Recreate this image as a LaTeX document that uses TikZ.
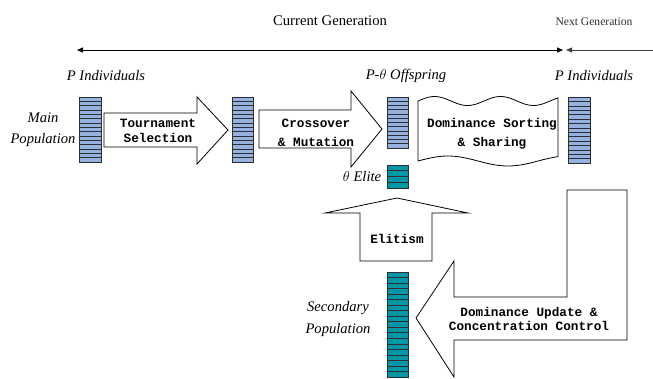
\documentclass[tikz,border=0pt]{standalone}
\usepackage{fontspec}
\setmainfont{Liberation Serif}
\newfontfamily\boxfont{Liberation Mono}
\usetikzlibrary{calc,arrows.meta}
\definecolor{stackblue}{RGB}{149,179,224}
\definecolor{stackteal}{RGB}{0,151,167}
\definecolor{stackedge}{RGB}{45,45,50}
\tikzset{
  stackbox/.style={draw=stackedge, line width=0.9pt, inner sep=0pt, outer sep=0pt},
  stackrow/.style={draw=stackedge, line width=0.6pt},
  blockarrow/.style={draw=black, fill=white, line width=0.8pt, line join=miter},
  boxtext/.style={font=\boxfont\bfseries\fontsize{12.7}{15}\selectfont, align=center, inner sep=0pt},
  itlabel/.style={font=\itshape\fontsize{14.6}{17}\selectfont, inner sep=0pt, align=center},
  genline/.style={line width=0.8pt, -{Triangle[length=6pt,width=5pt]}},
}
\newcommand\popstack[7]{%
  \node[stackbox, fill=#7, minimum width=#4pt, minimum height=#5pt] (#1) at (#2,#3) {};
  \pgfmathtruncatemacro\nrowsm{#6-1}%
  \foreach \i in {1,...,\nrowsm}{%
    \draw[stackrow] ($(#1.north west)!{\i/#6}!(#1.south west)$) -- ($(#1.north east)!{\i/#6}!(#1.south east)$);
  }%
}
\begin{document}
\begin{tikzpicture}[x=1pt,y=-1pt]
\useasboundingbox (0,0) rectangle (653,378);

% generation arrows
\coordinate (gl) at (77,50);
\coordinate (gr) at (563,50);
\coordinate (nl) at (566,50);
\coordinate (nr) at (653,50);
\draw[genline, {Triangle[length=6pt,width=5pt]}-{Triangle[length=6pt,width=5pt]}] (gl) -- (gr);
\draw[genline, draw=gray!50!black, -{Triangle[length=6pt,width=5pt]}] (nr) -- (nl);
\node[font=\fontsize{14.7}{17}\selectfont, inner sep=0pt] (curgen) at (330,21) {Current Generation};
\node[font=\fontsize{11.6}{14}\selectfont, text=gray!35!black, inner sep=0pt] (nextgen) at (594,22) {Next Generation};

% block arrows
\draw[blockarrow] (104,113) -- (197,113) -- (197,97) -- (228,130) -- (197,164) -- (197,147) -- (104,147) -- cycle;
\node[boxtext] (tourn) at (158,131) {Tournament\\Selection};
\draw[blockarrow] (259,110) -- (351,110) -- (351,91) -- (382,129) -- (351,167) -- (351,148) -- (259,148) -- cycle;
\node[boxtext, font=\boxfont\bfseries\fontsize{12.7}{19}\selectfont] (cross) at (316,133) {Crossover\\\& Mutation};

% dominance sorting (tape shape)
\draw[blockarrow] plot[smooth, domain=418:558, samples=60] (\x,{101-4.5*sin(5.4545*(\x-418))})
  -- plot[smooth, domain=558:418, samples=60] (\x,{161-5*sin(3*(\x-418))}) -- cycle;
\node[boxtext, font=\boxfont\bfseries\fontsize{12.7}{19}\selectfont] (domsort) at (492,134) {Dominance Sorting\\\& Sharing};

% elitism arrow
\draw[blockarrow] (397,198) -- (468,213) -- (432,213) -- (432,261) -- (360,261) -- (360,213) -- (325,213) -- cycle;
\node[boxtext] (elitism) at (397,239) {Elitism};

% dominance update arrow
\draw[blockarrow] (416,318) -- (454,261) -- (454,297) -- (567,297) -- (567,190) -- (627,190) -- (627,340) -- (454,340) -- (454,377) -- cycle;
\node[boxtext, font=\boxfont\bfseries\fontsize{12.7}{14.5}\selectfont] (domupd) at (529,319) {Dominance Update \&\\Concentration Control};

% population stacks
\popstack{s1}{90}{129.5}{22}{65}{15}{stackblue}
\popstack{s2}{242.5}{129.5}{21}{65}{15}{stackblue}
\popstack{s3}{397.5}{122.5}{21}{51}{12}{stackblue}
\popstack{elite}{397.5}{176.5}{21}{23}{4}{stackteal}
\popstack{s4}{579}{130}{22}{66}{15}{stackblue}
\popstack{sec}{397.5}{324.5}{21}{105}{19}{stackteal}

% labels
\node[itlabel] (pind1) at (106,76) {P Individuals};
\node[itlabel] (poff) at (406,76) {P-$\theta$ Offspring};
\node[itlabel] (pind2) at (594,76) {P Individuals};
\node[itlabel, font=\itshape\fontsize{14.6}{21}\selectfont] (mainpop) at (43,130) {Main\\Population};
\node[itlabel] (elitelbl) at (362,177) {$\theta$ Elite};
\node[itlabel, font=\itshape\fontsize{14.6}{22}\selectfont] (secpop) at (338,319) {Secondary\\Population};
\end{tikzpicture}
\end{document}
